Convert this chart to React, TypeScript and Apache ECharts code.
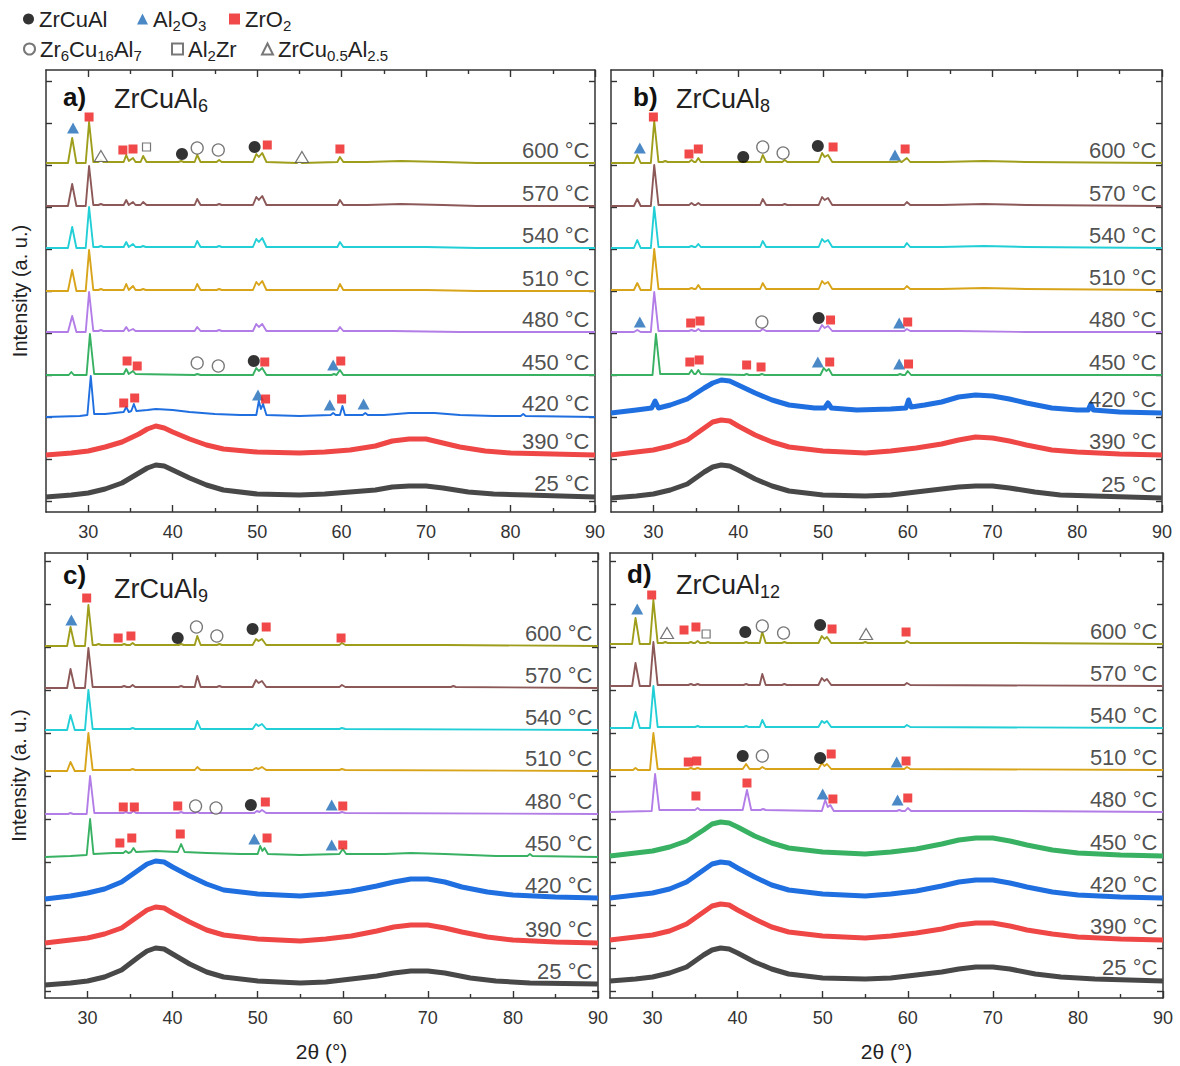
import React, { useEffect, useRef } from 'react';
import * as echarts from 'echarts';

const FONT = '"Liberation Sans", Arial, Helvetica, sans-serif';

// ---------- categories / labels ----------
const temps = ['600 °C', '570 °C', '540 °C', '510 °C', '480 °C', '450 °C', '420 °C', '390 °C', '25 °C'];
const majorX = [30, 40, 50, 60, 70, 80, 90];
const minorX = [35, 45, 55, 65, 75, 85];
const phaseNames = ['ZrCuAl', 'Al2O3', 'ZrO2', 'Zr6Cu16Al7', 'Al2Zr', 'ZrCu0.5Al2.5'];

// ---------- panel a: ZrCuAl6 (2θ, intensity above own baseline) ----------
const a600 = [[25,1],[27.6,1],[28.1,26],[28.6,1],[29.7,1],[30.1,42],[30.6,2],[31.2,2],[31.5,4],[31.8,2],[34.2,2],[34.5,9],[34.8,3],[35.3,6],[35.6,2],[36.2,2],[36.5,8],[36.9,2],[40.7,2],[41,3],[41.3,2],[42.6,2],[42.9,9],[43.3,2],[45.2,2],[45.5,4],[45.8,2],[49.5,2],[49.9,10],[50.2,7],[50.6,11],[51.1,2],[54.7,1],[55,3],[55.3,1],[59.5,2],[59.8,7],[60.2,2],[63,2],[67,3],[72,2],[76,1],[90,1]];
const a570 = [[25,1],[27.6,1],[28.1,23],[28.6,1],[29.7,1],[30.1,41],[30.6,2],[31.2,2],[31.5,3],[31.8,2],[34.2,2],[34.5,7],[34.8,2],[35.3,5],[35.6,2],[36.2,2],[36.5,5],[36.9,2],[42.6,2],[42.9,8],[43.3,2],[45.2,2],[45.5,3],[45.8,2],[49.5,2],[49.9,10],[50.2,7],[50.6,11],[51.1,2],[59.5,2],[59.8,7],[60.2,2],[63,2],[67,3],[72,2],[76,1],[90,1]];
const a540 = [[25,1],[27.6,1],[28.1,22],[28.6,1],[29.7,1],[30.1,42],[30.6,2],[31.2,2],[31.5,3],[31.8,2],[34.2,2],[34.5,7],[34.8,2],[35.3,5],[35.6,2],[36.2,2],[36.5,3],[36.8,2],[42.6,2],[42.9,8],[43.3,2],[45.2,2],[45.5,3],[45.8,2],[49.5,2],[49.9,10],[50.2,7],[50.6,11],[51.1,2],[59.5,2],[59.8,7],[60.2,2],[64,2],[70,2],[76,1],[90,1]];
const a510 = [[25,1],[27.6,1],[28.1,22],[28.6,1],[29.7,1],[30.1,42],[30.6,2],[31.2,2],[31.5,3],[31.8,2],[34.2,2],[34.5,8],[34.8,2],[35.3,6],[35.6,2],[36.2,2],[36.5,3],[36.8,2],[42.6,2],[42.9,8],[43.3,2],[45.2,2],[45.5,3],[45.8,2],[49.5,2],[49.9,10],[50.2,7],[50.6,11],[51.1,2],[59.5,2],[59.8,8],[60.2,2],[64,2],[70,2],[76,1],[90,1]];
const a480 = [[25,1],[27.6,1],[28.1,17],[28.6,1],[29.7,1],[30.1,41],[30.6,2],[31.2,2],[31.5,3],[31.8,2],[34.2,2],[34.5,6],[34.8,2],[35.3,4],[35.6,2],[42.6,2],[42.9,6],[43.3,2],[45.2,2],[45.5,3],[45.8,2],[49.5,2],[49.9,9],[50.2,6],[50.6,9],[51.1,2],[59.5,2],[59.8,6],[60.2,2],[66,2],[74,1],[90,1]];
const a450 = [[25,1],[27.7,1],[28.0,4],[28.3,1],[29.8,1],[30.2,42],[30.7,2],[34.2,2],[34.5,7],[34.8,2],[35.3,5],[35.6,2],[42.6,1],[42.9,2],[43.3,1],[49.5,1],[49.9,8],[50.2,5],[50.6,8],[51.1,1],[58.8,1],[59.1,2],[59.4,1],[59.8,6],[60.2,1],[90,1]];
const a420 = [[25,0],[29,1],[29.9,2],[30.3,41],[30.7,3],[32,3],[34.2,5],[34.5,10],[34.8,5],[35.1,6],[35.4,13],[35.7,6],[37,7],[38,8],[40,7],[42,5],[45,3],[48,2],[49.9,2],[50.2,16],[50.45,8],[50.7,13],[51.1,2],[55,1],[58.7,2],[59,4],[59.3,2],[59.8,2],[60.1,11],[60.4,2],[62.5,2],[62.8,4],[63.1,2],[65,2],[68,4],[71,4],[74,2],[78,1],[81.2,1],[81.5,3],[81.8,1],[90,0]];
const a390 = [[25,0],[28,2],[30,4],[32,8],[34,13],[36,21],[37,26],[38,29],[39,27],[40,23],[42,16],[44,10],[46,6],[50,3],[55,2],[58,3],[61,5],[64,9],[66,14],[68,16],[70,16],[72,12],[74,8],[77,4],[80,2],[85,1],[90,0]];
const a25 = [[25,0],[28,2],[30,4],[32,8],[34,14],[36,24],[37,29],[38,32],[39,31],[40,27],[42,19],[44,12],[46,7],[50,3],[55,2],[58,3],[61,5],[64,7],[66,10],[68,11],[70,11],[72,9],[75,5],[78,3],[82,2],[90,0]];
const aOffsets = [348, 305, 263, 220, 179, 136, 95, 57, 15];

// ---------- panel b: ZrCuAl8 ----------
const b600 = [[25,1],[27.7,1],[28.1,9],[28.5,1],[29.7,1],[30.1,43],[30.6,2],[31.1,2],[31.4,3],[31.7,2],[34.2,2],[34.5,4],[34.8,2],[35.0,2],[35.3,6],[35.6,2],[42.6,2],[42.9,9],[43.3,2],[45.2,2],[45.5,4],[45.8,2],[49.5,2],[49.9,11],[50.2,7],[50.6,9],[51.1,2],[58.7,2],[59,3],[59.3,2],[59.9,6],[60.3,2],[64,2],[69,3],[74,2],[90,1]];
const b570 = [[25,1],[27.7,1],[28.1,8],[28.5,1],[29.7,1],[30.1,42],[30.6,2],[34.2,2],[34.5,4],[34.8,2],[35.0,2],[35.3,4],[35.6,2],[42.6,2],[42.9,8],[43.3,2],[45.2,2],[45.5,3],[45.8,2],[49.5,2],[49.9,10],[50.2,7],[50.6,9],[51.1,2],[59.6,2],[59.9,5],[60.3,2],[64,2],[69,3],[74,2],[90,1]];
const b540 = [[25,1],[27.7,1],[28.1,9],[28.5,1],[29.7,1],[30.1,42],[30.6,2],[34.2,2],[34.5,3],[34.8,2],[35.0,2],[35.3,5],[35.6,2],[42.6,2],[42.9,8],[43.3,2],[45.2,2],[45.5,2],[45.8,2],[49.5,2],[49.9,10],[50.2,7],[50.6,9],[51.1,2],[59.6,2],[59.9,6],[60.3,2],[64,2],[69,3],[74,2],[90,1]];
const b510 = [[25,1],[27.7,1],[28.1,8],[28.5,1],[29.7,1],[30.1,42],[30.6,2],[34.2,2],[34.5,3],[34.8,2],[35.0,2],[35.3,6],[35.6,2],[42.6,2],[42.9,8],[43.3,2],[49.5,2],[49.9,10],[50.2,7],[50.6,9],[51.1,2],[59.6,2],[59.9,5],[60.3,2],[64,2],[69,3],[74,2],[90,1]];
const b480 = [[25,1],[27.7,1],[28.1,3],[28.5,1],[29.7,1],[30.1,41],[30.6,2],[34.2,2],[34.5,3],[34.8,2],[35.0,2],[35.3,4],[35.6,2],[42.6,2],[42.9,4],[43.3,2],[49.5,2],[49.9,8],[50.2,5],[50.6,7],[51.1,2],[58.8,2],[59.1,2],[59.6,2],[59.9,4],[60.3,2],[66,2],[74,1],[90,1]];
const b450 = [[25,1],[29.9,1],[30.3,42],[30.8,2],[34.2,2],[34.5,6],[34.8,2],[35.0,2],[35.3,6],[35.6,2],[40.7,1],[41,2],[41.3,1],[42.5,1],[42.8,2],[43.1,1],[49.7,1],[50.1,8],[50.4,5],[50.7,7],[51.1,1],[58.8,1],[59.1,2],[59.4,1],[59.7,1],[60.0,5],[60.4,1],[90,1]];
const b420 = [[25,0],[28,3],[29.8,5],[30.2,12],[30.6,5],[32,8],[34,14],[36,25],[37,30],[38,33],[39,32],[40,28],[42,20],[44,13],[46,8],[49,5],[50.2,5],[50.6,10],[51,5],[54,3],[58,4],[59.8,5],[60.1,13],[60.4,6],[62,8],[64,11],[66,16],[68,18],[70,17],[72,14],[74,10],[77,5],[80,3],[81.3,3],[81.6,9],[81.9,3],[85,1],[90,0]];
const b390 = [[25,0],[28,3],[30,5],[32,9],[34,15],[36,27],[37,33],[38,35],[39,34],[40,29],[42,20],[44,13],[46,8],[50,4],[55,2],[58,4],[61,7],[64,11],[66,15],[68,18],[70,17],[72,14],[74,10],[77,5],[80,3],[85,1],[90,0]];
const b25 = [[25,0],[28,2],[30,4],[32,8],[34,14],[36,26],[37,31],[38,33],[39,32],[40,28],[42,19],[44,12],[46,7],[50,3],[55,2],[58,3],[61,6],[64,9],[66,11],[68,12],[70,12],[72,10],[75,6],[78,3],[82,2],[90,0]];
const bOffsets = [348, 305, 263, 221, 179, 136, 99, 57, 14];

// ---------- panel c: ZrCuAl9 ----------
const c600 = [[25,1],[27.6,1],[28.0,20],[28.5,1],[29.7,1],[30.1,42],[30.6,2],[31.0,2],[31.3,3],[31.6,2],[34.0,2],[34.3,3],[34.6,2],[35.0,2],[35.3,4],[35.6,2],[40.7,2],[41.0,3],[41.3,2],[42.6,2],[42.9,11],[43.3,2],[45.2,2],[45.5,3],[45.8,2],[49.4,2],[49.8,8],[50.1,6],[50.5,8],[51.0,2],[59.6,2],[59.9,4],[60.3,2],[66,2],[72,2],[90,1]];
const c570 = [[25,1],[27.6,1],[28.0,20],[28.5,1],[29.7,1],[30.1,41],[30.6,2],[34.0,2],[34.3,3],[34.6,2],[35.0,2],[35.3,4],[35.6,2],[40.7,2],[41.0,3],[41.3,2],[42.6,2],[42.9,13],[43.3,2],[45.2,2],[45.5,3],[45.8,2],[49.4,2],[49.8,9],[50.1,6],[50.5,8],[51.0,2],[59.6,2],[59.9,4],[60.3,2],[72.7,2],[73.0,3],[73.3,2],[90,1]];
const c540 = [[25,1],[27.6,1],[28.0,16],[28.5,1],[29.7,1],[30.1,41],[30.6,2],[35.0,2],[35.3,3],[35.6,2],[42.6,2],[42.9,10],[43.3,2],[49.4,2],[49.8,7],[50.1,5],[50.5,7],[51.0,2],[59.6,2],[59.9,3],[60.3,2],[90,1]];
const c510 = [[25,1],[27.6,1],[28.0,10],[28.5,1],[29.7,1],[30.1,39],[30.6,2],[35.0,2],[35.3,3],[35.6,2],[42.6,2],[42.9,5],[43.3,2],[49.4,2],[49.8,4],[50.1,3],[50.5,5],[51.0,2],[59.6,2],[59.9,3],[60.3,2],[90,1]];
const c480 = [[25,1],[27.7,1],[28.0,2],[28.3,1],[29.9,1],[30.3,39],[30.8,2],[34.2,2],[34.5,3],[34.8,2],[35.1,2],[35.4,4],[35.7,2],[40.7,2],[41.0,3],[41.3,2],[42.6,2],[42.9,3],[43.2,2],[49.6,2],[49.9,4],[50.2,3],[50.5,5],[51.0,2],[59.6,2],[59.9,3],[60.3,2],[90,1]];
const c450 = [[25,0],[28,1],[29.9,2],[30.3,38],[30.7,3],[33,4],[34.2,4],[34.5,6],[34.8,4],[35.1,5],[35.4,9],[35.7,5],[38,6],[40.6,5],[41.0,13],[41.4,5],[44,4],[48,3],[50.0,3],[50.3,11],[50.55,6],[50.8,9],[51.2,3],[55,2],[59.6,3],[60.0,8],[60.4,3],[65,3],[68,4],[72,3],[78,1],[81.7,1],[82,3],[82.3,1],[90,0]];
const c420 = [[25,0],[28,3],[30,6],[32,10],[34,17],[36,29],[37,35],[38,38],[39,37],[40,32],[42,23],[44,15],[46,9],[50,5],[55,3],[58,5],[61,8],[64,13],[66,17],[68,20],[70,20],[72,17],[74,12],[77,7],[80,4],[85,2],[90,1]];
const c390 = [[25,0],[28,3],[30,5],[32,9],[34,15],[36,27],[37,33],[38,36],[39,35],[40,30],[42,21],[44,13],[46,8],[50,4],[55,2],[58,4],[61,7],[64,12],[66,16],[68,18],[70,18],[72,15],[74,11],[77,6],[80,3],[85,1],[90,0]];
const c25 = [[25,0],[28,2],[30,4],[32,8],[34,15],[36,28],[37,34],[38,37],[39,36],[40,31],[42,21],[44,13],[46,8],[50,4],[55,2],[58,3],[61,6],[64,9],[66,12],[68,14],[70,14],[72,12],[75,7],[78,4],[82,2],[90,1]];
const cOffsets = [351, 309, 267, 226, 183, 141, 99, 55, 13];

// ---------- panel d: ZrCuAl12 ----------
const d600 = [[25,1],[27.6,1],[28.0,27],[28.5,1],[29.7,1],[30.1,45],[30.6,2],[31.2,2],[31.5,3],[31.8,2],[34.2,2],[34.5,3],[34.8,2],[35.0,2],[35.3,4],[35.6,2],[36.2,2],[36.5,3],[36.8,2],[40.7,2],[41.0,3],[41.3,2],[42.6,2],[42.9,13],[43.3,2],[45.2,2],[45.5,3],[45.8,2],[49.5,2],[49.9,9],[50.2,6],[50.5,8],[51.0,2],[54.7,2],[55.0,3],[55.3,2],[59.6,2],[59.9,4],[60.3,2],[66,2],[72,2],[90,1]];
const d570 = [[25,1],[27.6,1],[28.0,24],[28.5,1],[29.7,1],[30.1,45],[30.6,2],[34.2,2],[34.5,3],[34.8,2],[35.0,2],[35.3,3],[35.6,2],[40.7,2],[41.0,3],[41.3,2],[42.6,2],[42.9,13],[43.3,2],[45.2,2],[45.5,3],[45.8,2],[49.5,2],[49.9,9],[50.2,6],[50.5,8],[51.0,2],[59.6,2],[59.9,4],[60.3,2],[90,1]];
const d540 = [[25,1],[27.6,1],[28.0,17],[28.5,1],[29.7,1],[30.1,43],[30.6,2],[35.0,2],[35.3,3],[35.6,2],[40.7,2],[41.0,3],[41.3,2],[42.6,2],[42.9,9],[43.3,2],[49.5,2],[49.9,8],[50.2,6],[50.5,8],[51.0,2],[59.6,2],[59.9,4],[60.3,2],[90,1]];
const d510 = [[25,1],[27.7,1],[28.0,3],[28.3,1],[29.7,1],[30.1,38],[30.6,2],[34.2,2],[34.5,3],[34.8,2],[35.0,2],[35.3,3],[35.6,2],[40.6,2],[41.0,7],[41.4,2],[42.6,2],[42.9,4],[43.3,2],[49.5,2],[49.9,8],[50.2,5],[50.5,7],[51.0,2],[59.6,2],[59.9,4],[60.3,2],[90,1]];
const d480 = [[25,1],[29.9,2],[30.3,39],[30.8,3],[33,3],[35.0,3],[35.3,5],[35.6,3],[40.6,3],[41.1,23],[41.6,3],[42.7,3],[43.0,4],[43.3,3],[49.9,2],[50.3,13],[50.6,6],[50.9,8],[51.3,2],[58.7,2],[59.0,3],[59.3,2],[59.7,2],[60.0,5],[60.4,2],[66,2],[72,2],[90,1]];
const d450 = [[25,0],[28,3],[30,5],[32,9],[34,15],[36,26],[37,32],[38,34],[39,33],[40,29],[42,20],[44,13],[46,8],[50,4],[55,2],[58,4],[61,7],[64,12],[66,16],[68,18],[70,18],[72,15],[74,11],[77,6],[80,3],[85,1],[90,0]];
const d420 = [[25,0],[28,3],[30,5],[32,9],[34,16],[36,28],[37,34],[38,36],[39,35],[40,30],[42,21],[44,13],[46,8],[50,4],[55,2],[58,4],[61,7],[64,12],[66,16],[68,18],[70,18],[72,15],[74,11],[77,6],[80,3],[85,1],[90,0]];
const d390 = [[25,0],[28,3],[30,5],[32,9],[34,16],[36,28],[37,34],[38,36],[39,35],[40,30],[42,21],[44,13],[46,8],[50,4],[55,2],[58,4],[61,7],[64,11],[66,15],[68,17],[70,17],[72,14],[74,10],[77,6],[80,3],[85,1],[90,0]];
const d25 = [[25,0],[28,2],[30,4],[32,8],[34,14],[36,26],[37,31],[38,33],[39,32],[40,28],[42,19],[44,12],[46,7],[50,3],[55,2],[58,3],[61,6],[64,9],[66,12],[68,14],[70,14],[72,12],[75,7],[78,4],[82,2],[90,0]];
const dOffsets = [353, 311, 269, 227, 185, 142, 100, 58, 17];

// ---------- phase markers [2θ, stacked intensity] ----------
const aZrCuAl = [[41.1,358],[49.7,365],[49.6,151]];
const aAl2O3 = [[28.2,384],[59.0,147],[50.1,117],[58.6,107],[62.6,108]];
const aZrO2 = [[30.1,395],[34.1,362],[35.3,363],[51.2,367],[59.8,363],[34.6,151],[35.8,146],[50.9,150],[59.9,151],[34.2,109],[35.5,114],[51.0,113],[60.0,113]];
const aZr6 = [[42.9,364],[45.4,362],[42.9,149],[45.4,146]];
const aAl2Zr = [[36.9,365]];
const aZrCu05 = [[31.5,356],[55.3,355]];

const bZrCuAl = [[40.6,355],[49.4,366],[49.5,194]];
const bAl2O3 = [[28.4,364],[58.5,357],[28.4,190],[59.0,189],[49.4,150],[59.0,148]];
const bZrO2 = [[30.0,395],[34.2,358],[35.3,363],[51.2,365],[59.7,363],[34.4,189],[35.5,191],[50.9,192],[60.0,190],[34.3,150],[35.4,152],[41.0,147],[42.7,145],[50.8,150],[60.1,148]];
const bZr6 = [[42.9,365],[45.3,359],[42.8,190]];
const bAl2Zr: number[][] = [];
const bZrCu05: number[][] = [];

const cZrCuAl = [[40.6,360],[49.4,369],[49.2,193]];
const cAl2O3 = [[28.1,378],[58.7,193],[49.6,159],[58.7,153]];
const cZrO2 = [[29.9,400],[33.6,360],[35.1,362],[51.0,371],[59.8,360],[34.2,191],[35.5,191],[40.6,192],[50.9,196],[60.0,192],[33.8,155],[35.2,160],[40.9,164],[51.1,160],[60.0,153]];
const cZr6 = [[42.8,371],[45.2,362],[42.7,192],[45.1,190]];
const cAl2Zr: number[][] = [];
const cZrCu05: number[][] = [];

const dZrCuAl = [[40.9,366],[49.7,373],[40.6,242],[49.7,240]];
const dAl2O3 = [[28.2,389],[58.7,236],[50.0,204],[58.8,198]];
const dZrO2 = [[29.9,403],[33.7,368],[35.1,371],[51.1,369],[59.8,366],[34.2,236],[35.2,237],[51.0,244],[59.8,237],[35.1,202],[41.1,215],[51.2,199],[60.0,200]];
const dZr6 = [[42.9,372],[45.4,365],[42.9,242]];
const dAl2Zr = [[36.3,364]];
const dZrCu05 = [[31.7,365],[55.1,364]];

// ---------- styling / layout (not data) ----------
const traceColors = ['#9e9e1c', '#8c5858', '#22cfd6', '#d8a41a', '#b27de6', '#38b163', '#1f6fe0', '#ef4646', '#484848'];

const panels = [
  { label: 'a)', sub: '6', traces: [a600, a570, a540, a510, a480, a450, a420, a390, a25], offsets: aOffsets, noisy: [7, 8],
    markers: [aZrCuAl, aAl2O3, aZrO2, aZr6, aAl2Zr, aZrCu05],
    grid: { left: 46, top: 70, width: 549, height: 442 }, yticks: [11, 53, 95, 137, 179, 221, 263, 305, 347, 389, 431],
    lblPos: { left: 63, top: 84 }, fPos: { left: 114, top: 85 }, showY: true, showX: false },
  { label: 'b)', sub: '8', traces: [b600, b570, b540, b510, b480, b450, b420, b390, b25], offsets: bOffsets, noisy: [6, 7, 8],
    markers: [bZrCuAl, bAl2O3, bZrO2, bZr6, bAl2Zr, bZrCu05],
    grid: { left: 611, top: 70, width: 551, height: 442 }, yticks: [11, 53, 95, 137, 179, 221, 263, 305, 347, 389, 431],
    lblPos: { left: 633, top: 84 }, fPos: { left: 676, top: 85 }, showY: false, showX: false },
  { label: 'c)', sub: '9', traces: [c600, c570, c540, c510, c480, c450, c420, c390, c25], offsets: cOffsets, noisy: [6, 7, 8],
    markers: [cZrCuAl, cAl2O3, cZrO2, cZr6, cAl2Zr, cZrCu05],
    grid: { left: 45, top: 553, width: 553, height: 445 }, yticks: [7, 50, 93, 136, 179, 222, 265, 308, 351, 394, 437],
    lblPos: { left: 63, top: 562 }, fPos: { left: 114, top: 575 }, showY: true, showX: true },
  { label: 'd)', sub: '12', traces: [d600, d570, d540, d510, d480, d450, d420, d390, d25], offsets: dOffsets, noisy: [5, 6, 7, 8],
    markers: [dZrCuAl, dAl2O3, dZrO2, dZr6, dAl2Zr, dZrCu05],
    grid: { left: 610, top: 553, width: 553, height: 445 }, yticks: [7, 50, 93, 136, 179, 222, 265, 308, 351, 394, 437],
    lblPos: { left: 627, top: 561 }, fPos: { left: 676, top: 571 }, showY: false, showX: true },
];

const markerStyles = [
  { symbol: 'circle', symbolSize: 12, itemStyle: { color: '#000' } },
  { symbol: 'triangle', symbolSize: [12, 11], itemStyle: { color: '#1e6bb8' } },
  { symbol: 'rect', symbolSize: 9, itemStyle: { color: '#ee1b1b' } },
  { symbol: 'circle', symbolSize: 12, itemStyle: { color: '#fff', borderColor: '#555', borderWidth: 1.3 } },
  { symbol: 'rect', symbolSize: 8, itemStyle: { color: '#fff', borderColor: '#555', borderWidth: 1.2 } },
  { symbol: 'triangle', symbolSize: [13, 11], itemStyle: { color: '#fff', borderColor: '#555', borderWidth: 1.2 } },
];

const richSub = (big: number, small: number, pad: number) => ({
  n: { fontSize: big, color: '#222', fontFamily: FONT, fontWeight: 'normal', lineHeight: big },
  s: { fontSize: small, color: '#222', fontFamily: FONT, fontWeight: 'normal', lineHeight: small, padding: [pad, 0, 0, 0] },
});

const legendText: Record<string, string> = {
  'ZrCuAl': '{n|ZrCuAl}{s| }',
  'Al2O3': '{n|Al}{s|2}{n|O}{s|3}',
  'ZrO2': '{n|ZrO}{s|2}',
  'Zr6Cu16Al7': '{n|Zr}{s|6}{n|Cu}{s|16}{n|Al}{s|7}',
  'Al2Zr': '{n|Al}{s|2}{n|Zr}',
  'ZrCu0.5Al2.5': '{n|ZrCu}{s|0.5}{n|Al}{s|2.5}',
};

// legend item placement (icon left edge, top)
const legendPlaces = [
  { name: 'ZrCuAl', left: 23, top: 5 },
  { name: 'Al2O3', left: 137, top: 5 },
  { name: 'ZrO2', left: 229, top: 5 },
  { name: 'Zr6Cu16Al7', left: 23, top: 35 },
  { name: 'Al2Zr', left: 171, top: 35 },
  { name: 'ZrCu0.5Al2.5', left: 261, top: 35 },
];

const AX = '#333';

function buildOption() {
  const grid: any[] = [];
  const xAxis: any[] = [];
  const yAxis: any[] = [];
  const series: any[] = [];
  const title: any[] = [];

  panels.forEach((p, gi) => {
    grid.push({ ...p.grid, containLabel: false });
    const ymax = p.grid.height;
    const xb = { type: 'value', gridIndex: gi, min: 25, max: 90, splitLine: { show: false } };
    const tickStyle = { color: AX, width: 1.4 };
    xAxis.push({
      ...xb, position: 'bottom',
      axisLine: { show: true, onZero: false, lineStyle: { color: AX, width: 1.5 } },
      axisTick: { show: true, inside: true, length: 7, customValues: majorX, lineStyle: tickStyle },
      axisLabel: { show: true, customValues: majorX, fontSize: 18, color: '#333', margin: 11, fontFamily: FONT },
      name: p.showX ? '2θ (°)' : '', nameLocation: 'middle', nameGap: 43,
      nameTextStyle: { fontSize: 21, color: '#222', fontFamily: FONT },
    });
    xAxis.push({
      ...xb, position: 'bottom',
      axisLine: { show: false, onZero: false },
      axisTick: { show: true, inside: true, length: 4, customValues: minorX, lineStyle: tickStyle },
      axisLabel: { show: false },
    });
    xAxis.push({
      ...xb, position: 'top',
      axisLine: { show: true, onZero: false, lineStyle: { color: AX, width: 1.5 } },
      axisTick: { show: true, inside: true, length: 7, customValues: majorX, lineStyle: tickStyle },
      axisLabel: { show: false },
    });
    xAxis.push({
      ...xb, position: 'top',
      axisLine: { show: false, onZero: false },
      axisTick: { show: true, inside: true, length: 4, customValues: minorX, lineStyle: tickStyle },
      axisLabel: { show: false },
    });
    const yb = { type: 'value', gridIndex: gi, min: 0, max: ymax, splitLine: { show: false }, axisLabel: { show: false } };
    yAxis.push({
      ...yb, position: 'left',
      axisLine: { show: true, onZero: false, lineStyle: { color: AX, width: 1.5 } },
      axisTick: { show: true, inside: true, length: 6, customValues: p.yticks, lineStyle: tickStyle },
      name: p.showY ? 'Intensity (a. u.)' : '', nameLocation: 'middle', nameGap: 16, nameRotate: 90,
      nameTextStyle: { fontSize: 20, color: '#222', fontFamily: FONT },
    });
    yAxis.push({
      ...yb, position: 'right',
      axisLine: { show: true, onZero: false, lineStyle: { color: AX, width: 1.5 } },
      axisTick: { show: true, inside: true, length: 6, customValues: p.yticks, lineStyle: tickStyle },
    });

    const xi = gi * 4;
    const yi = gi * 2;
    p.traces.forEach((tr, ti) => {
      const off = p.offsets[ti];
      const noisy = p.noisy.includes(ti);
      series.push({
        type: 'line', name: `${p.label} ${temps[ti]}`, xAxisIndex: xi, yAxisIndex: yi,
        data: tr.map(([x, y]) => [x, y + off]),
        showSymbol: false, symbol: 'none', silent: true,
        lineStyle: { color: traceColors[ti], width: noisy ? 5 : 1.9, join: 'round' },
        z: 2,
      });
    });
    p.markers.forEach((m, mi) => {
      series.push({
        type: 'scatter', name: phaseNames[mi], xAxisIndex: xi, yAxisIndex: yi,
        data: m, silent: true, z: 5,
        ...markerStyles[mi],
      });
    });
    series.push({
      type: 'scatter', name: 'temps', xAxisIndex: xi, yAxisIndex: yi, silent: true, z: 6,
      symbolSize: 1, itemStyle: { color: 'rgba(0,0,0,0)' },
      data: temps.map((t, ti) => ({ name: t, value: [89.4, p.offsets[ti] + 14] })),
      label: { show: true, position: 'left', distance: 0, formatter: '{b}', fontSize: 22, color: '#222', fontFamily: FONT },
    });

    title.push({ text: p.label, left: p.lblPos.left, top: p.lblPos.top, padding: 0,
      textStyle: { fontSize: 26, fontWeight: 'bold', color: '#111', fontFamily: FONT } });
    title.push({ text: `{n|ZrCuAl}{s|${p.sub}}`, left: p.fPos.left, top: p.fPos.top, padding: 0,
      textStyle: { fontWeight: 'normal', rich: richSub(27, 18, 15) } });
  });

  const legend = legendPlaces.map((lp) => ({
    orient: 'horizontal', left: lp.left, top: lp.top, itemWidth: 11, itemHeight: 11, selectedMode: false, padding: 0,
    data: [lp.name],
    formatter: (n: string) => legendText[n] || n,
    textStyle: { color: '#222', fontSize: 22, fontFamily: FONT, rich: richSub(22, 15, 13) },
  }));

  return {
    animation: false,
    backgroundColor: '#fff',
    title,
    legend,
    grid, xAxis, yAxis, series,
  };
}

export default function App() {
  const ref = useRef<HTMLDivElement>(null);
  useEffect(() => {
    const chart = echarts.init(ref.current as HTMLDivElement, null, { renderer: 'svg' });
    chart.setOption(buildOption() as any);
    return () => chart.dispose();
  }, []);
  return <div ref={ref} style={{ position: 'fixed', left: 0, top: 0, width: 1180, height: 1066, background: '#fff' }} />;
}
